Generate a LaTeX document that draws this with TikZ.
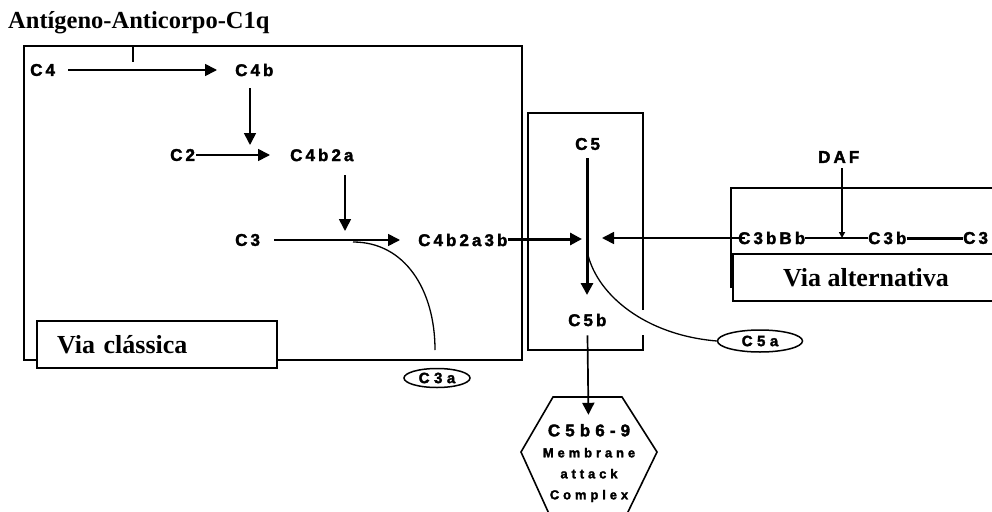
\documentclass[tikz,border=0pt]{standalone}
\usepackage{fontspec}
\setmainfont{Liberation Serif}
\newfontfamily\pixfont{Liberation Sans}[LetterSpace=18, FakeBold=2]
\newfontfamily\pixwide{Liberation Sans}[LetterSpace=30, FakeBold=2]
\usetikzlibrary{shapes.geometric, arrows.meta, positioning, calc}
\tikzset{
  compnode/.style={font=\pixfont\bfseries\fontsize{17}{17}\selectfont,
                   inner sep=0pt, anchor=west},
  fragnode/.style={ellipse, draw, line width=1.5pt, inner sep=0pt,
                   font=\pixwide\bfseries\fontsize{15}{15}\selectfont},
  viabox/.style={rectangle, draw, line width=1.5pt, fill=white,
                 font=\bfseries\fontsize{26}{26}\selectfont, minimum height=47pt},
  boxframe/.style={line width=2pt},
  arrow/.style={-{Triangle[length=12pt,width=12pt]}, line width=1.7pt},
  thickarrow/.style={arrow, line width=3pt},
  smallarrow/.style={-{Triangle[length=6pt,width=6pt]}, line width=1.5pt},
  plainline/.style={line width=1.6pt},
  cleave/.style={line width=1.3pt}
}

\begin{document}
\begin{tikzpicture}[x=1pt, y=-1pt]
  \fill[white] (0,0) rectangle (992,511);
  \useasboundingbox (0,0) rectangle (992,511);
  \clip (0,0) rectangle (992,511);

  \node[font=\bfseries\fontsize{24.5}{24.5}\selectfont, anchor=base west,
        inner sep=0pt] (title) at (8,29) {Antígeno-Anticorpo-C1q};

  % via classica
  \draw[boxframe] (24,46) rectangle (522,360);
  \node[viabox, minimum width=240pt, text width=200pt, align=left,
        inner xsep=20pt] (vcl) at (157,344.5) {Via clássica};
  \node[compnode] (c4) at (30,70) {C4};
  \node[compnode] (c4b) at (235,70) {C4b};
  \node[compnode] (c2) at (170,155) {C2};
  \node[compnode] (c4b2a) at (290,155) {C4b2a};
  \node[compnode] (c3) at (235,240) {C3};
  \node[compnode] (c4b2a3b) at (418,240) {C4b2a3b};
  \coordinate (c1q) at (133,46);
  \coordinate (c1qend) at (133,62);
  \coordinate (j1) at (250,145);
  \coordinate (j2) at (345,231);
  \coordinate (c3split) at (353,242);
  \coordinate (c3aend) at (435,350);
  \node[fragnode, minimum width=66pt, minimum height=19pt] (c3a) at (437,378) {C3a};

  \draw[plainline] (c1q) -- (c1qend);
  \foreach \from/\to/\s/\e in {c4/c4b/13/18, c2/c4b2a/1/20, c3/c4b2a3b/14/18}
    \draw[arrow, shorten <=\s pt, shorten >=\e pt] (\from) -- (\to);
  \draw[arrow, shorten <=12pt] (j1 |- c4b.south) -- (j1);
  \draw[arrow, shorten <=14pt] (j2 |- c4b2a.south) -- (j2);
  \draw[cleave] (c3split) .. controls (405,242) and (435,290) .. (c3aend);

  % C5
  \draw[boxframe] (643,310) -- (643,113) -- (528,113) -- (528,350) -- (643,350) -- (643,335);
  \node[compnode] (c5) at (575,144) {C5};
  \node[compnode] (c5b) at (568,320) {C5b};
  \coordinate (j3) at (582,239);
  \coordinate (j4) at (602,238);
  \coordinate (c5end) at (587,295);
  \coordinate (c5split) at (588,255);
  \node[fragnode, minimum width=85pt, minimum height=22pt] (c5a) at (760,341) {C5a};
  \draw[thickarrow] (c4b2a3b.east |- j3) -- (j3);
  \draw[thickarrow, shorten <=8pt] (c5end |- c5.south) -- (c5end);
  \draw[cleave] (c5split) .. controls (598,295) and (645,335) .. (c5a.west);

  % via alternativa
  \draw[boxframe] (731,188) rectangle (1000,287);
  \node[viabox, minimum width=266pt] (valt) at (866,277.5) {Via alternativa};
  \node[compnode] (c3bbb) at (738,238) {C3bBb};
  \node[compnode] (daf) at (818,157) {DAF};
  \node[compnode] (c3b) at (868,238) {C3b};
  \node[compnode] (c3alt) at (963,238) {C3};
  \draw[arrow, shorten <=-7pt] (c3bbb.west) -- (j4);
  \draw[plainline] (c3bbb) -- (c3b);
  \draw[line width=3pt] (c3b) -- (c3alt);
  \draw[smallarrow, shorten <=5pt] (daf.south -| 842,0) -- (842,238);

  % membrane attack complex
  \node[font=\pixwide\bfseries\fontsize{13}{21}\selectfont, align=center,
        inner sep=0pt] (mac) at (589,463)
      {{\fontsize{17}{17}\selectfont C5b6-9}\\ Membrane\\ attack\\ Complex};
  \draw[plainline] (553,397) -- (622,397) -- (657,452) -- (626,516)
                   -- (550,516) -- (521,452) -- cycle;
  \draw[arrow, shorten <=9pt, shorten >=9pt] (c5b) -- (mac);
\end{tikzpicture}
\end{document}
